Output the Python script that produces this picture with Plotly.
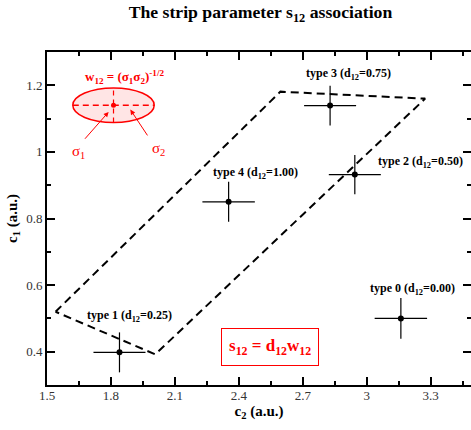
import plotly.graph_objects as go

# ---- data ----
type_names = ["type 0", "type 1", "type 2", "type 3", "type 4"]
d12_values = ["0.00", "0.25", "0.50", "0.75", "1.00"]
c2_values = [3.16, 1.84, 2.944, 2.828, 2.352]
c1_values = [0.50, 0.398, 0.932, 1.139, 0.850]
c2_errors = [0.123, 0.122, 0.122, 0.122, 0.123]
c1_errors = [0.061, 0.060, 0.059, 0.060, 0.060]

# dashed region polygon (c2, c1)
poly_c2 = [1.54, 2.595, 3.274, 2.008, 1.54]
poly_c1 = [0.52, 1.181, 1.160, 0.392, 0.52]

# inset ellipse: centre and half-axes
ell_c2, ell_c1 = 1.812, 1.14
ell_r2, ell_r1 = 0.191, 0.052

# label anchor positions (data coords)
label_c2 = [3.215, 1.888, 3.251, 2.914, 2.48]
label_c1 = [0.588, 0.507, 0.970, 1.233, 0.936]

x_ticks = [1.5, 1.8, 2.1, 2.4, 2.7, 3.0, 3.3]
x_tick_text = ["1.5", "1.8", "2.1", "2.4", "2.7", "3", "3.3"]
y_ticks = [0.4, 0.6, 0.8, 1.0, 1.2]
y_tick_text = ["0.4", "0.6", "0.8", "1", "1.2"]

SERIF = "Liberation Serif"
RED = "#ff0000"

fig = go.Figure()

# dashed polygon
fig.add_trace(go.Scatter(x=poly_c2, y=poly_c1, mode="lines",
                         line=dict(color="black", width=2, dash="8px,5px"),
                         hoverinfo="skip"))

# data points with error bars
fig.add_trace(go.Scatter(
    x=c2_values, y=c1_values, mode="markers",
    marker=dict(color="black", size=6),
    error_x=dict(type="data", array=c2_errors, color="black", thickness=1.2, width=0),
    error_y=dict(type="data", array=c1_errors, color="black", thickness=1.2, width=0),
))

# inset ellipse decorations
fig.add_shape(type="circle", xref="x", yref="y",
              x0=ell_c2 - ell_r2, x1=ell_c2 + ell_r2,
              y0=ell_c1 - ell_r1, y1=ell_c1 + ell_r1,
              line=dict(color=RED, width=1.5), fillcolor="rgba(255,0,0,0.10)")
fig.add_shape(type="line", xref="x", yref="y",
              x0=ell_c2 - ell_r2, x1=ell_c2 + ell_r2, y0=ell_c1, y1=ell_c1,
              line=dict(color=RED, width=1.5, dash="6px,4px"))
fig.add_shape(type="line", xref="x", yref="y",
              x0=ell_c2, x1=ell_c2, y0=ell_c1 - ell_r1, y1=ell_c1 + ell_r1,
              line=dict(color=RED, width=1.2, dash="5px,4px"))
fig.add_trace(go.Scatter(x=[ell_c2], y=[ell_c1], mode="markers",
                         marker=dict(color=RED, size=5), hoverinfo="skip"))

annotations = []
for name, d, lx, ly in zip(type_names, d12_values, label_c2, label_c1):
    annotations.append(dict(
        x=lx, y=ly, xref="x", yref="y", showarrow=False,
        text=f"<b>{name} (d<sub>12</sub>={d})</b>",
        font=dict(family=SERIF, size=12, color="black")))

# ellipse labels
annotations.append(dict(x=1.862, y=1.225, xref="x", yref="y", showarrow=False,
                        text="<b>w<sub>12</sub> = (σ<sub>1</sub>σ<sub>2</sub>)<sup>-1/2</sup></b>",
                        font=dict(family=SERIF, size=13, color=RED)))
annotations.append(dict(x=1.789, y=1.12, ax=1.672, ay=1.035, xref="x", yref="y",
                        axref="x", ayref="y", showarrow=True, arrowhead=2,
                        arrowsize=1, arrowwidth=1, arrowcolor=RED, text=""))
annotations.append(dict(x=1.891, y=1.127, ax=1.976, ay=1.045, xref="x", yref="y",
                        axref="x", ayref="y", showarrow=True, arrowhead=2,
                        arrowsize=1, arrowwidth=1, arrowcolor=RED, text=""))
annotations.append(dict(x=1.648, y=1.0, xref="x", yref="y", showarrow=False,
                        text="σ<sub>1</sub>", font=dict(family=SERIF, size=15, color=RED)))
annotations.append(dict(x=2.023, y=1.01, xref="x", yref="y", showarrow=False,
                        text="σ<sub>2</sub>", font=dict(family=SERIF, size=15, color=RED)))

# boxed formula
annotations.append(dict(x=2.545, y=0.413, xref="x", yref="y", showarrow=False,
                        text="<b>s<sub>12</sub> = d<sub>12</sub>w<sub>12</sub></b>",
                        font=dict(family=SERIF, size=17, color=RED),
                        bordercolor=RED, borderwidth=1, borderpad=7, bgcolor="white"))

fig.update_layout(
    width=471, height=430,
    margin=dict(l=47, r=0, t=52, b=45),
    plot_bgcolor="white", paper_bgcolor="white",
    showlegend=False,
    title=dict(text="<b>The strip parameter s<sub>12</sub> association</b>",
               x=0.553, xanchor="center", y=0.972, yanchor="middle",
               font=dict(family=SERIF, size=17.7, color="black")),
    annotations=annotations,
    xaxis=dict(range=[1.5, 3.489], tickvals=x_ticks, ticktext=x_tick_text,
               ticks="inside", ticklen=8, tickwidth=1.5, tickcolor="black",
               showline=True, linewidth=2, linecolor="black", mirror="ticks",
               showgrid=False, zeroline=False, ticklabelstandoff=-3,
               tickfont=dict(family=SERIF, size=13, color="#333"),
               minor=dict(dtick=0.15, tick0=1.5, ticks="inside", ticklen=4,
                          tickwidth=1.5, tickcolor="black", showgrid=False),
               title=dict(text="<b>c<sub>2</sub> (a.u.)</b>", standoff=2,
                          font=dict(family=SERIF, size=15, color="black"))),
    yaxis=dict(range=[0.3, 1.3], tickvals=y_ticks, ticktext=y_tick_text,
               ticks="inside", ticklen=8, tickwidth=1.5, tickcolor="black",
               showline=True, linewidth=2, linecolor="black",
               showgrid=False, zeroline=False,
               tickfont=dict(family=SERIF, size=13, color="#333"),
               minor=dict(dtick=0.1, tick0=0.3, ticks="inside", ticklen=4,
                          tickwidth=1.5, tickcolor="black", showgrid=False),
               title=dict(text="<b>c<sub>1</sub> (a.u.)</b>", standoff=5,
                          font=dict(family=SERIF, size=15, color="black"))),
    yaxis2=dict(range=[0.3, 1.3], overlaying="y", side="right",
                tickvals=y_ticks, showticklabels=False,
                ticks="inside", ticklen=8, tickwidth=1.5, tickcolor="black",
                showline=False, showgrid=False, zeroline=False,
                minor=dict(dtick=0.1, tick0=0.3, ticks="inside", ticklen=4,
                           tickwidth=1.5, tickcolor="black", showgrid=False)),
)
# invisible helper trace to activate the right-hand tick axis
fig.add_trace(go.Scatter(x=[1.5], y=[0.3], yaxis="y2", mode="markers",
                         marker=dict(opacity=0), hoverinfo="skip"))

fig.write_html("out.html", config={"displayModeBar": False},
               post_script="document.body.style.margin='0';document.body.style.overflow='hidden';")
